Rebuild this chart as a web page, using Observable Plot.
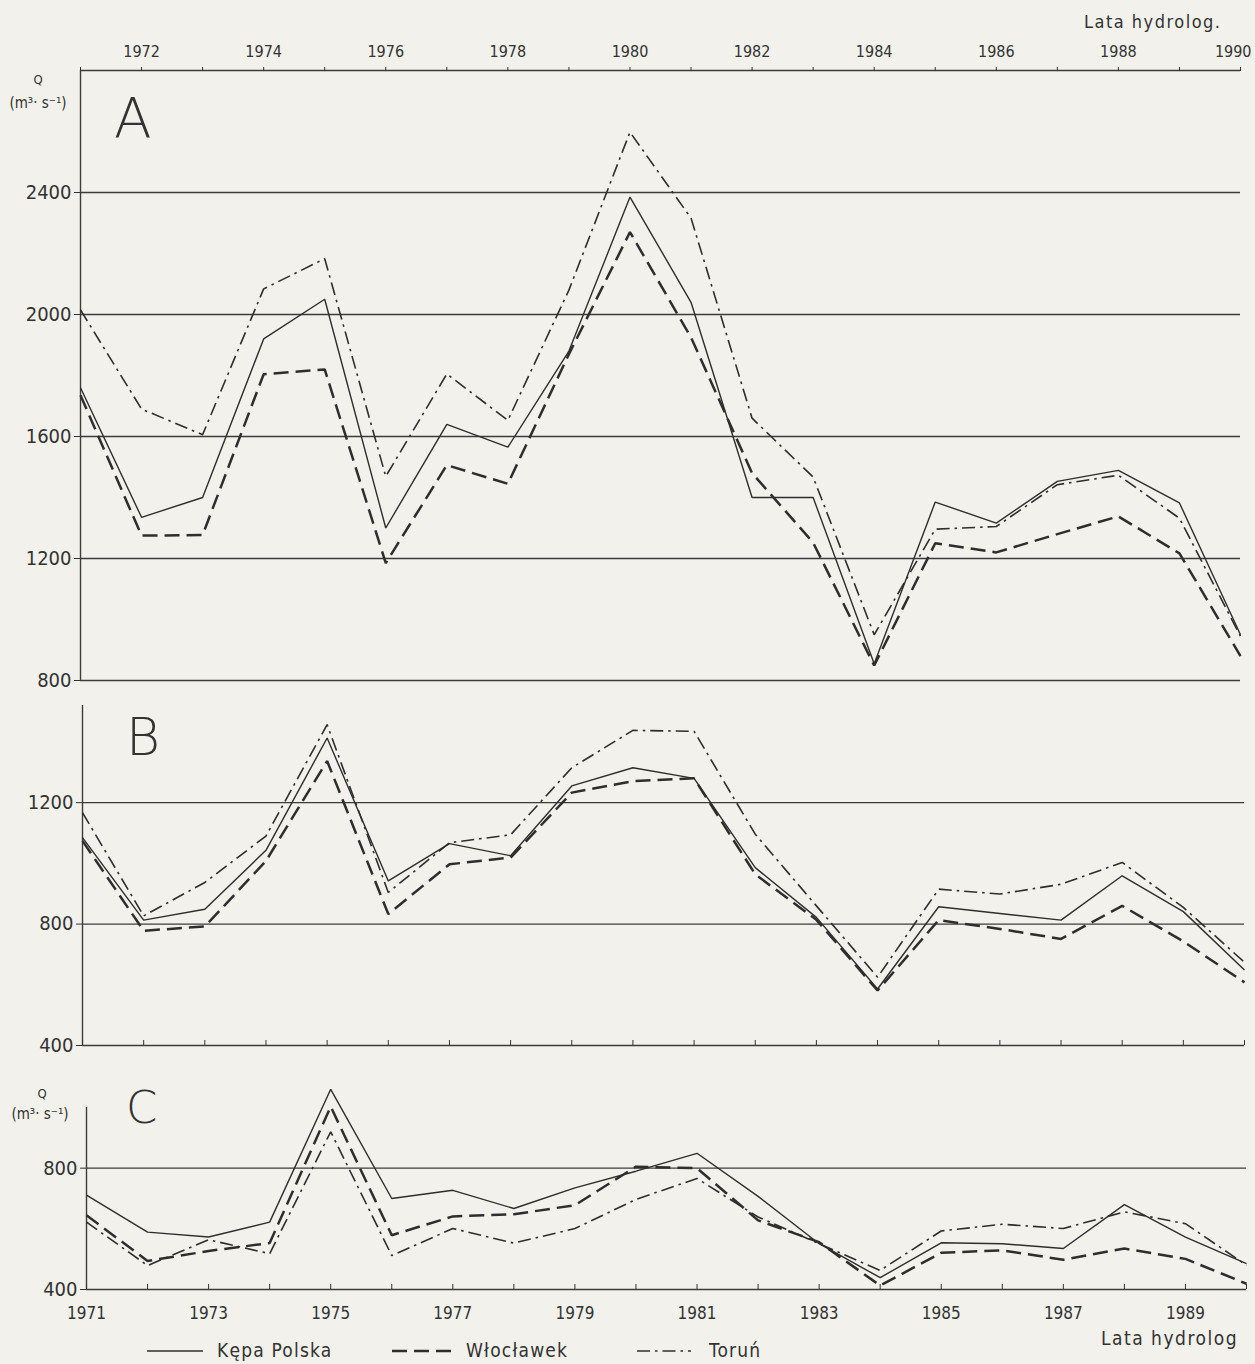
<!DOCTYPE html>
<html>
<head>
<meta charset="utf-8">
<script src="https://cdn.jsdelivr.net/npm/d3@7"></script>
<script src="https://cdn.jsdelivr.net/npm/@observablehq/plot@0.6"></script>
<style>
  body { margin: 0; background: #f2f1ec; }
  #wrap { position: relative; width: 1255px; height: 1364px; overflow: hidden; background: #f2f1ec; }
  .panel { position: absolute; left: 0; }
  #overlay { position: absolute; left: 0; top: 0; }
</style>
</head>
<body>
<div id="wrap"></div>
<script>
// ---------- data ----------
const years = [1971, 1972, 1973, 1974, 1975, 1976, 1977, 1978, 1979, 1980,
               1981, 1982, 1983, 1984, 1985, 1986, 1987, 1988, 1989, 1990];
const stations = ["Kępa Polska", "Włocławek", "Toruń"];

// Panel A
const kepaA      = [1760, 1335, 1400, 1920, 2050, 1300, 1640, 1565, 1880, 2385, 2040, 1400, 1400, 855, 1385, 1316, 1453, 1489, 1382, 950];
const wloclawekA = [1735, 1275, 1277, 1804, 1820, 1185, 1506, 1445, 1870, 2270, 1925, 1480, 1252, 849, 1250, 1220, 1280, 1338, 1217, 880];
const torunA     = [2015, 1690, 1606, 2084, 2183, 1469, 1805, 1653, 2080, 2598, 2316, 1660, 1467, 950, 1296, 1305, 1442, 1473, 1332, 945];
// Panel B
const kepaB      = [1085, 813, 849, 1043, 1413, 942, 1065, 1025, 1255, 1315, 1280, 986, 822, 586, 857, 835, 813, 959, 841, 649];
const wloclawekB = [1074, 778, 792, 1008, 1337, 833, 997, 1019, 1233, 1271, 1280, 964, 814, 581, 813, 784, 751, 860, 743, 608];
const torunB     = [1167, 827, 937, 1090, 1457, 904, 1068, 1094, 1315, 1438, 1435, 1096, 860, 625, 915, 899, 931, 1003, 855, 674];
// Panel C
const kepaC      = [711, 589, 573, 622, 1060, 700, 727, 667, 735, 790, 849, 707, 551, 439, 554, 551, 535, 680, 573, 485];
const wloclawekC = [645, 494, 527, 553, 1003, 579, 641, 648, 678, 805, 800, 628, 556, 413, 521, 529, 498, 535, 501, 419];
const torunC     = [622, 479, 564, 518, 920, 512, 601, 553, 601, 697, 766, 639, 551, 463, 593, 615, 601, 656, 617, 480];

// tick values
const yTicksA = [800, 1200, 1600, 2000, 2400];
const yTicksB = [400, 800, 1200];
const yTicksC = [400, 800];
const topLabelYears = [1972, 1974, 1976, 1978, 1980, 1982, 1984, 1986, 1988];
const lastTopLabel = [1990];
const bottomLabelYears = [1971, 1973, 1975, 1977, 1979, 1981, 1983, 1985, 1987, 1989];

// ---------- styling ----------
const FONT = "'DejaVu Sans Condensed', 'DejaVu Sans', sans-serif";
const INK = "#2e2e2e";
const GRID = "#3c3c3c";
const lineStyle = {
  "Kępa Polska": {strokeWidth: 1.4, strokeDasharray: null},
  "Włocławek":   {strokeWidth: 2.5, strokeDasharray: "15,7"},
  "Toruń":       {strokeWidth: 1.6, strokeDasharray: "13,5,2.5,5"}
};

function rowsOf(series) {
  return stations.flatMap((s, i) => years.map((yr, j) => ({station: s, year: yr, q: series[i][j]})));
}

function panel({series, yDomain, yTicks, height, marginTop, marginBottom, marginLeft, marginRight, extraMarks}) {
  const rows = rowsOf(series);
  return Plot.plot({
    width: 1255,
    height,
    marginTop, marginBottom, marginLeft, marginRight,
    style: {background: "transparent", fontFamily: FONT, color: "#333", overflow: "visible"},
    x: {domain: [years[0], years[years.length - 1]]},
    y: {domain: yDomain},
    marks: [
      Plot.ruleY(yTicks, {stroke: GRID, strokeWidth: 1.3}),
      Plot.ruleX([years[0]], {stroke: GRID, strokeWidth: 1.4}),
      Plot.axisY({ticks: yTicks, tickSize: 6, tickPadding: 3, label: null, fontSize: 20, tickFormat: d => String(d)}),
      ...stations.map(s => Plot.line(rows.filter(r => r.station === s), {
        x: "year", y: "q", stroke: INK,
        strokeWidth: lineStyle[s].strokeWidth,
        strokeDasharray: lineStyle[s].strokeDasharray,
        strokeLinejoin: "miter", strokeLinecap: "butt"
      })),
      ...extraMarks
    ]
  });
}

const wrap = document.getElementById("wrap");
function place(svg, top) {
  const d = document.createElement("div");
  d.className = "panel";
  d.style.top = top + "px";
  d.appendChild(svg);
  wrap.appendChild(d);
}

// Panel A
const domA = [800, 2800];
place(panel({
  series: [kepaA, wloclawekA, torunA],
  yDomain: domA, yTicks: yTicksA,
  height: 690, marginTop: 70, marginBottom: 10, marginLeft: 80, marginRight: 15,
  extraMarks: [
    Plot.ruleY([domA[1]], {stroke: GRID, strokeWidth: 1.3}),
    Plot.axisX({anchor: "top", ticks: years, tickSize: 4, tickFormat: () => "", label: null}),
    Plot.axisX({anchor: "top", ticks: topLabelYears, tickSize: 0, tickPadding: 14, fontSize: 16, tickFormat: d => String(d), label: null}),
    Plot.axisX({anchor: "top", ticks: lastTopLabel, tickSize: 0, tickPadding: 14, fontSize: 16, textAnchor: "end", dx: 11, tickFormat: d => String(d), label: null})
  ]
}), 0);

// Panel B
place(panel({
  series: [kepaB, wloclawekB, torunB],
  yDomain: [400, 1520], yTicks: yTicksB,
  height: 365, marginTop: 15, marginBottom: 10, marginLeft: 82, marginRight: 11,
  extraMarks: [
    Plot.axisX({anchor: "bottom", ticks: years, tickSize: -5, tickFormat: () => "", label: null})
  ]
}), 690);

// Panel C
place(panel({
  series: [kepaC, wloclawekC, torunC],
  yDomain: [400, 1000], yTicks: yTicksC,
  height: 269, marginTop: 52, marginBottom: 35, marginLeft: 86, marginRight: 9,
  extraMarks: [
    Plot.axisX({anchor: "bottom", ticks: years, tickSize: -5, tickFormat: () => "", label: null}),
    Plot.axisX({anchor: "bottom", ticks: bottomLabelYears, tickSize: 0, tickPadding: 17, fontSize: 17, tickFormat: d => String(d), label: null})
  ]
}), 1055);

// ---------- annotations & legend ----------
const ov = d3.select(wrap).append("svg").attr("id", "overlay")
  .attr("width", 1255).attr("height", 1364)
  .style("font-family", FONT).style("fill", "#333");

function txt(s, x, y, size, opts = {}) {
  const t = ov.append("text").attr("x", x).attr("y", y).attr("font-size", size).text(s);
  if (opts.anchor) t.attr("text-anchor", opts.anchor);
  if (opts.ls) t.attr("letter-spacing", opts.ls);
  if (opts.weight) t.attr("font-weight", opts.weight);
  if (opts.family) t.attr("font-family", opts.family);
  return t;
}

txt("Lata hydrolog.", 1084, 28, 18, {ls: 1.5});
txt("Q", 38, 84, 13, {anchor: "middle"});
txt("(m³· s⁻¹)", 38, 108, 15, {anchor: "middle"});
txt("A", 114, 137, 55, {weight: 200, family: "'DejaVu Sans', sans-serif"});
txt("B", 126, 755, 52, {weight: 200, family: "'DejaVu Sans', sans-serif"});
txt("C", 126, 1123, 45, {weight: 200, family: "'DejaVu Sans', sans-serif"});
txt("Q", 42, 1098, 13, {anchor: "middle"});
txt("(m³· s⁻¹)", 40, 1119, 15, {anchor: "middle"});
txt("Lata hydrolog", 1101, 1345, 19, {ls: 1.5});

const legendItems = [
  {station: "Kępa Polska", x1: 147, x2: 203, tx: 217},
  {station: "Włocławek",   x1: 392, x2: 456, tx: 466},
  {station: "Toruń",       x1: 637, x2: 691, tx: 709}
];
legendItems.forEach(it => {
  const st = lineStyle[it.station];
  ov.append("line").attr("x1", it.x1).attr("x2", it.x2).attr("y1", 1351).attr("y2", 1351)
    .attr("stroke", INK).attr("stroke-width", st.strokeWidth)
    .attr("stroke-dasharray", st.strokeDasharray);
  txt(it.station, it.tx, 1357, 19, {ls: 1.2});
});
</script>
</body>
</html>
